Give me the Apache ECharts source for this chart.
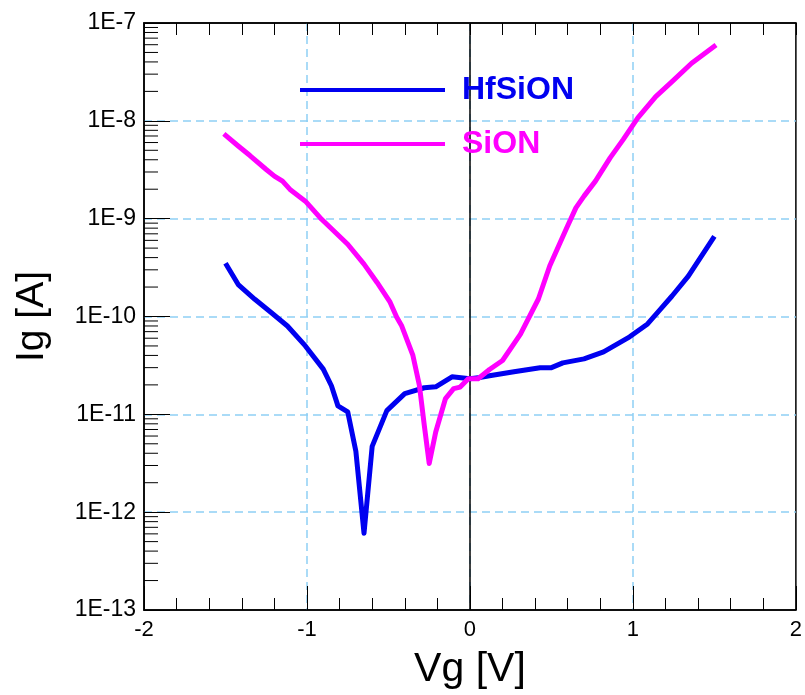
<!DOCTYPE html>
<html>
<head>
<meta charset="utf-8">
<script src="https://cdn.jsdelivr.net/npm/echarts@6/dist/echarts.min.js"></script>
<style>
html,body{margin:0;padding:0;background:#fff;}
#chart{width:805px;height:695px;}
</style>
</head>
<body>
<div id="chart"></div>
<script>
// ---- data ----
const seriesNames = ['HfSiON', 'SiON'];
const hfVg = [-1.50,-1.42,-1.32,-1.22,-1.12,-1.01,-0.90,-0.85,-0.81,-0.75,-0.70,-0.65,-0.60,-0.51,-0.40,-0.28,-0.21,-0.11,0.00,0.05,0.12,0.27,0.43,0.50,0.57,0.70,0.82,0.98,1.09,1.16,1.24,1.34,1.50];
const hfIg = [3.5e-10,2.1e-10,1.5e-10,1.1e-10,8.0e-11,5.0e-11,2.9e-11,1.96e-11,1.22e-11,1.06e-11,4.2e-12,6.1e-13,4.7e-12,1.09e-11,1.63e-11,1.87e-11,1.91e-11,2.42e-11,2.31e-11,2.36e-11,2.48e-11,2.72e-11,2.99e-11,3.0e-11,3.36e-11,3.69e-11,4.35e-11,6.2e-11,8.4e-11,1.14e-10,1.62e-10,2.59e-10,6.6e-10];
const sionVg = [-1.51,-1.42,-1.35,-1.25,-1.20,-1.15,-1.10,-1.01,-0.91,-0.75,-0.65,-0.57,-0.49,-0.45,-0.42,-0.35,-0.31,-0.28,-0.25,-0.21,-0.15,-0.10,-0.06,-0.01,0.05,0.12,0.20,0.31,0.42,0.49,0.59,0.65,0.70,0.77,0.86,0.94,1.03,1.14,1.24,1.36,1.51];
const sionIg = [7.35e-9,5.5e-9,4.42e-9,3.18e-9,2.72e-9,2.42e-9,1.96e-9,1.51e-9,9.85e-10,5.48e-10,3.43e-10,2.23e-10,1.40e-10,9.9e-11,8.1e-11,4.0e-11,1.97e-11,7.7e-12,3.15e-12,6.6e-12,1.45e-11,1.83e-11,1.9e-11,2.31e-11,2.31e-11,2.87e-11,3.55e-11,6.6e-11,1.51e-10,3.3e-10,7.8e-10,1.29e-9,1.70e-9,2.42e-9,4.18e-9,6.43e-9,1.07e-8,1.77e-8,2.52e-8,3.88e-8,5.97e-8];
const xTicks = [-2, -1, 0, 1, 2];
const yDecades = [-13, -12, -11, -10, -9, -8, -7];
const yMinorMult = [2, 3, 4, 5, 6, 7, 8, 9];

const X_MIN = xTicks[0], X_MAX = xTicks[xTicks.length - 1];
const Y_MIN = Math.pow(10, yDecades[0]), Y_MAX = Math.pow(10, yDecades[yDecades.length - 1]);
const colors = ['#0000f0', '#ff00ff'];
const FONT = "'Liberation Sans', Arial, sans-serif";
const gridBlue = '#8fd0f5';

const zip = (a, b) => a.map((v, i) => [v, b[i]]);
const yMinor = [];
yDecades.slice(0, -1).forEach(d => yMinorMult.forEach(m => yMinor.push([X_MIN, m * Math.pow(10, d)])));

const chart = echarts.init(document.getElementById('chart'), null, {renderer: 'canvas'});
chart.setOption({
  animation: false,
  backgroundColor: '#fff',
  grid: {left: 144, right: 3, top: 23, bottom: 83, show: true, borderColor: '#000', borderWidth: 1.5, backgroundColor: 'transparent'},
  legend: {
    orient: 'vertical', left: 300, top: 72, padding: 0, icon: 'rect',
    itemWidth: 145, itemHeight: 4, itemGap: 18,
    data: [
      {name: seriesNames[0], textStyle: {color: colors[0]}},
      {name: seriesNames[1], textStyle: {color: colors[1]}}
    ],
    textStyle: {fontFamily: FONT, fontWeight: 'bold', fontSize: 32, padding: [0, 0, 0, 12], lineHeight: 36},
    selectedMode: false
  },
  xAxis: [{
    type: 'value', min: X_MIN, max: X_MAX, interval: 1, position: 'bottom',
    name: 'Vg [V]', nameLocation: 'middle', nameGap: 39,
    nameTextStyle: {fontFamily: FONT, fontSize: 41, color: '#000'},
    axisLine: {show: true, onZero: false, lineStyle: {color: '#000', width: 1.5}},
    axisTick: {show: true, inside: true, length: 24, lineStyle: {color: '#000', width: 1}},
    minorTick: {show: true, splitNumber: 5, length: 12, lineStyle: {color: '#000', width: 1}},
    axisLabel: {fontFamily: FONT, fontSize: 22, color: '#000', margin: 9},
    splitLine: {show: true, showMinLine: false, showMaxLine: false, lineStyle: {color: gridBlue, width: 1.5, type: [8, 5]}}
  }, {
    type: 'value', min: X_MIN, max: X_MAX, interval: 1, position: 'top',
    axisLine: {show: true, onZero: false, lineStyle: {color: '#000', width: 1.5}},
    axisTick: {show: true, inside: true, length: 12, lineStyle: {color: '#000', width: 1}},
    minorTick: {show: true, splitNumber: 5, length: 12, lineStyle: {color: '#000', width: 1}},
    axisLabel: {show: false}, splitLine: {show: false}
  }],
  yAxis: {
    type: 'log', logBase: 10, min: Y_MIN, max: Y_MAX, splitNumber: 6,
    name: 'Ig [A]', nameLocation: 'middle', nameGap: 92, nameRotate: 90,
    nameTextStyle: {fontFamily: FONT, fontSize: 39, color: '#000'},
    axisLine: {show: true, onZero: false, lineStyle: {color: '#000', width: 1.5}},
    axisTick: {show: true, inside: true, length: 26, lineStyle: {color: '#000', width: 1}},
    axisLabel: {fontFamily: FONT, fontSize: 23, color: '#000', margin: 8,
      formatter: v => '1E' + Math.round(Math.log10(v))},
    splitLine: {show: true, showMinLine: false, showMaxLine: false, lineStyle: {color: gridBlue, width: 1.5, type: [8, 5]}}
  },
  series: [{
    name: seriesNames[0], type: 'line', data: zip(hfVg, hfIg), showSymbol: false, symbol: 'none',
    lineStyle: {color: colors[0], width: 5, join: 'round'}, itemStyle: {color: colors[0]}, z: 3,
    markLine: {silent: true, symbol: 'none', label: {show: false},
      lineStyle: {color: '#000', width: 1.5, type: 'solid'}, data: [{xAxis: 0}], z: 1}
  }, {
    name: seriesNames[1], type: 'line', data: zip(sionVg, sionIg), showSymbol: false, symbol: 'none',
    lineStyle: {color: colors[1], width: 5, join: 'round'}, itemStyle: {color: colors[1]}, z: 3
  }, {
    type: 'custom', data: yMinor, silent: true, z: 4,
    renderItem: (params, api) => {
      const p = api.coord([api.value(0), api.value(1)]);
      return {type: 'line', shape: {x1: p[0], y1: p[1], x2: p[0] + 14, y2: p[1]},
        style: {stroke: '#000', lineWidth: 1}};
    }
  }]
});
</script>
</body>
</html>
